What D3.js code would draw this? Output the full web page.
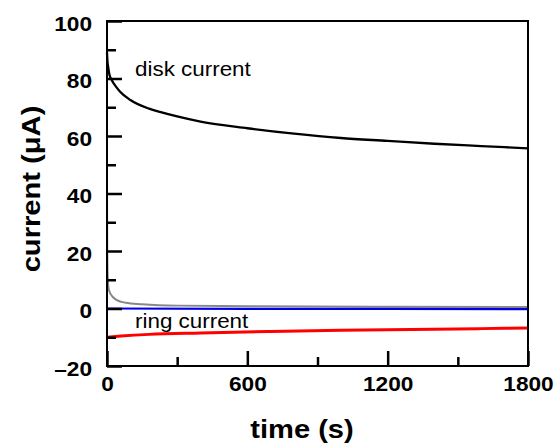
<!DOCTYPE html>
<html><head><meta charset="utf-8">
<script src="https://cdn.jsdelivr.net/npm/d3@7"></script>
<style>body{margin:0;background:#fff}svg{display:block}</style>
</head><body><svg id="c" width="556" height="444"></svg>
<script>
const diskT = [0, 2, 5, 10, 20, 40, 55, 100, 180, 230, 300, 400, 600, 800, 1000, 1200, 1400, 1600, 1800];
const diskI = [89, 86, 84, 81.5, 79.5, 77, 75.5, 72.5, 69.5, 68.3, 66.8, 65.0, 62.7, 60.8, 59.3, 58.3, 57.3, 56.5, 55.7];
const grayT = [0, 0.5, 1.5, 3, 6, 10, 25, 40, 80, 150, 300, 600, 1200, 1800];
const grayI = [45, 30, 18, 11, 7.5, 6, 4, 3, 2, 1.5, 1, 0.8, 0.6, 0.5];
const blueT = [0, 600, 1200, 1800];
const blueI = [0, -0.1, -0.15, -0.2];
const redT = [0, 60, 180, 400, 700, 1000, 1300, 1600, 1800];
const redI = [-10, -9.6, -9.0, -8.5, -8.0, -7.6, -7.3, -7.0, -6.8];
const xTicks = [0, 600, 1200, 1800];
const xMinor = [300, 900, 1500];
const yTicks = [-20, 0, 20, 40, 60, 80, 100];
const yMinor = [-10, 10, 30, 50, 70, 90];

const svg = d3.select("#c");
const L = 107, R = 528, T = 21, B = 366;
const x = d3.scaleLinear().domain([0, 1800]).range([L, R]);
const y = d3.scaleLinear().domain([-20, 100]).range([B, T]);
const font = "'Liberation Sans', Arial, sans-serif";

function stretch(k) {
  return sel => sel.each(function () {
    const w = this.getComputedTextLength();
    d3.select(this).attr("textLength", w * k).attr("lengthAdjust", "spacingAndGlyphs");
  });
}

const line = d3.line().x(d => x(d[0])).y(d => y(d[1])).curve(d3.curveMonotoneX);
function series(ts, vs, color, w) {
  svg.append("path").datum(ts.map((t, i) => [t, vs[i]]))
    .attr("d", line).attr("fill", "none").attr("stroke", color).attr("stroke-width", w);
}
series(grayT, grayI, "#888888", 2);
series(blueT, blueI, "#0000e6", 2.2);
series(redT, redI, "#ff0000", 3);
series(diskT, diskI, "#000000", 2.3);

// frame
svg.append("rect").attr("x", L).attr("y", T).attr("width", R - L).attr("height", B - T)
  .attr("fill", "none").attr("stroke", "#000").attr("stroke-width", 2);

// y ticks
const yAxis = d3.axisRight(y).tickValues(yTicks).tickSize(15).tickFormat(d => d < 0 ? "\u2013" + Math.abs(d) : String(d));
const gy = svg.append("g").attr("transform", `translate(${L},0)`).call(yAxis);
gy.attr("font-family", font).attr("font-size", 21);
gy.select(".domain").remove();
gy.selectAll("line").attr("stroke", "#000").attr("stroke-width", 2.5);
gy.selectAll("text").attr("x", -15).attr("dy", 9).attr("text-anchor", "end")
  .attr("font-weight", "bold").attr("fill", "#000")
  .call(stretch(1.08));
const gym = svg.append("g").attr("transform", `translate(${L},0)`)
  .call(d3.axisRight(y).tickValues(yMinor).tickSize(9).tickFormat(""));
gym.select(".domain").remove();
gym.selectAll("line").attr("stroke", "#000").attr("stroke-width", 2.5);

// x ticks
const gx = svg.append("g").attr("transform", `translate(0,${B})`)
  .call(d3.axisTop(x).tickValues(xTicks).tickSize(15).tickFormat(d3.format("d")));
gx.attr("font-family", font).attr("font-size", 21);
gx.select(".domain").remove();
gx.selectAll("line").attr("stroke", "#000").attr("stroke-width", 2.5);
gx.selectAll("text").attr("y", 25).attr("dy", 0).attr("text-anchor", "middle")
  .attr("font-weight", "bold").attr("fill", "#000")
  .call(stretch(1.08));
const gxm = svg.append("g").attr("transform", `translate(0,${B})`)
  .call(d3.axisTop(x).tickValues(xMinor).tickSize(9).tickFormat(""));
gxm.select(".domain").remove();
gxm.selectAll("line").attr("stroke", "#000").attr("stroke-width", 2.5);

// labels
svg.append("text").attr("x", 135).attr("y", 76).text("disk current")
  .attr("font-family", font).attr("font-size", 20).attr("fill", "#000").call(stretch(1.12));
svg.append("text").attr("x", 135).attr("y", 328).text("ring current")
  .attr("font-family", font).attr("font-size", 20).attr("fill", "#000").call(stretch(1.12));

svg.append("text").attr("x", 302).attr("y", 438).attr("text-anchor", "middle")
  .text("time (s)").attr("font-family", font).attr("font-weight", "bold").attr("font-size", 26).call(stretch(1.12));
svg.append("text").attr("transform", `translate(40,189) rotate(-90)`).attr("text-anchor", "middle")
  .text("current (\u03bcA)").attr("font-family", font).attr("font-weight", "bold").attr("font-size", 26).call(stretch(1.12));
</script></body></html>
